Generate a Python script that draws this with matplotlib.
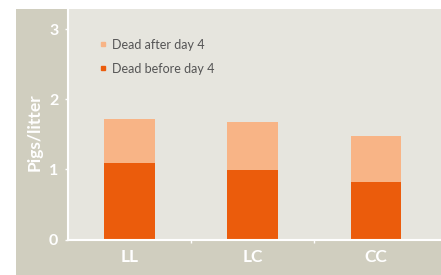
import matplotlib.pyplot as plt
import matplotlib.patches as mpatch
from matplotlib.lines import Line2D

plt.rcParams['font.family'] = ['Lato', 'DejaVu Sans']

categories = ['LL', 'LC', 'CC']
dead_before = [1.09, 0.99, 0.82]
dead_after = [0.63, 0.69, 0.66]
yticks = [0, 1, 2, 3]

dark = '#EB5C0C'
light = '#F8B486'
plot_bg = '#E6E5DE'
frame_bg = '#D0CEBF'

fig = plt.figure(figsize=(4.41, 2.75), dpi=100)
fig.patch.set_facecolor('white')
# beige frame behind the axes
fig.patches.append(mpatch.Rectangle((16 / 441, 0), 1, 266 / 275, transform=fig.transFigure,
                                    facecolor=frame_bg, edgecolor='none', zorder=-10))

ax = fig.add_axes([68 / 441, 35.5 / 275, 373 / 441, 230.5 / 275])
ax.set_facecolor(plot_bg)

x = range(len(categories))
ax.bar(x, dead_before, width=0.41, color=dark, zorder=2)
ax.bar(x, dead_after, width=0.41, bottom=dead_before, color=light, zorder=2)

ax.set_xlim(-0.5, 2.53)
ax.set_ylim(0, 3.29)
ax.set_xticks(list(x))
ax.set_xticklabels(categories)
ax.set_xticks([0.5, 1.5], minor=True)
ax.set_yticks(yticks)

for s in ['top', 'right']:
    ax.spines[s].set_visible(False)
for s in ['left', 'bottom']:
    ax.spines[s].set_color('white')
    ax.spines[s].set_linewidth(1.5)
    ax.spines[s].set_zorder(3)

ax.tick_params(axis='x', which='major', length=0, pad=7, labelsize=12.5, labelcolor='white')
ax.tick_params(axis='x', which='minor', length=2, color='white', width=1)
ax.tick_params(axis='y', length=2, color='white', width=1, pad=5, labelsize=11.5, labelcolor='white')
for lab in ax.get_xticklabels() + ax.get_yticklabels():
    lab.set_fontweight('bold')

ax.set_ylabel('Pigs/litter', color='white', fontsize=12.5, fontweight='bold')
ax.yaxis.set_label_coords(-0.068, 0.464)

handles = [Line2D([], [], marker='s', linestyle='none', markersize=3.5, color=light),
           Line2D([], [], marker='s', linestyle='none', markersize=3.5, color=dark)]
leg = ax.legend(handles, ['Dead after day 4', 'Dead before day 4'], loc='upper left',
                bbox_to_anchor=(0.055, 0.92), frameon=False, fontsize=9, labelcolor='#555555',
                handlelength=0.5, handletextpad=0.5, labelspacing=0.95)

fig.savefig('out.png', dpi=100)
